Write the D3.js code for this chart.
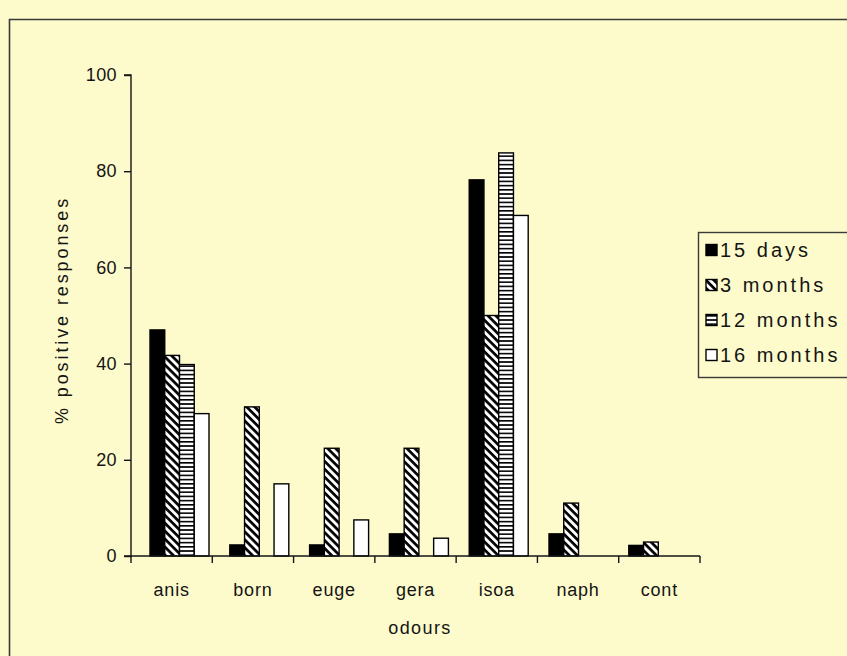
<!DOCTYPE html>
<html><head><meta charset="utf-8">
<script src="https://cdn.jsdelivr.net/npm/d3@7"></script>
<style>
html,body{margin:0;padding:0;background:#fdfbcb;}
svg{display:block;font-family:"Liberation Sans",Arial,sans-serif;}
</style></head>
<body>
<svg id="chart" width="847" height="656"></svg>
<script>
const categories = ["anis","born","euge","gera","isoa","naph","cont"];
const seriesNames = ["15 days","3 months","12 months","16 months"];
const days15   = [47.0, 2.3, 2.3, 4.6, 78.2, 4.6, 2.2];
const months3  = [41.7, 31.0, 22.4, 22.4, 50.0, 11.0, 2.9];
const months12 = [39.8, 0, 0, 0, 83.8, 0, 0];
const months16 = [29.6, 15.0, 7.5, 3.7, 70.8, 0, 0];
const seriesValues = [days15, months3, months12, months16];
const yTicks = [0,20,40,60,80,100];
const xTitle = "odours";
const yTitle = "% positive responses";

(function(){
const svg = d3.select("#chart");
const bg = "#fdfbcb";
const ink = "#141414";
svg.append("rect").attr("width",847).attr("height",656).attr("fill",bg);

const defs = svg.append("defs");
const pd = defs.append("pattern").attr("id","diag").attr("patternUnits","userSpaceOnUse")
  .attr("width",5.6).attr("height",5.6).attr("patternTransform","rotate(45)");
pd.append("rect").attr("width",5.6).attr("height",5.6).attr("fill","#fff");
pd.append("rect").attr("x",0).attr("y",0).attr("width",5.6).attr("height",2.7).attr("fill","#000");
const ph = defs.append("pattern").attr("id","horiz").attr("patternUnits","userSpaceOnUse")
  .attr("width",8).attr("height",4.2);
ph.append("rect").attr("width",8).attr("height",4.2).attr("fill","#fff");
ph.append("rect").attr("x",0).attr("y",0).attr("width",8).attr("height",1.6).attr("fill","#000");
const fills = ["#000","url(#diag)","url(#horiz)","#fff"];

// outer frame
svg.append("path").attr("d","M9.5,660 L9.5,19.5 L860,19.5").attr("fill","none").attr("stroke","#3a3a3a").attr("stroke-width",1.6);

const pLeft = 131, pRight = 700, pTop = 75, pBottom = 556;
const x0 = d3.scaleBand().domain(categories).range([pLeft,pRight]);
const xb = d3.scaleBand().domain(categories).range([139.6,698.2]);
const groupW = 59;
const x1 = d3.scaleBand().domain(d3.range(seriesNames.length)).range([0,groupW]);
const y = d3.scaleLinear().domain([0,100]).range([pBottom,pTop]);

const g = svg.append("g");
categories.forEach((c,i)=>{
  const gx = xb(c) + (xb.bandwidth()-groupW)/2;
  seriesValues.forEach((vals,s)=>{
    const v = vals[i];
    if(v<=0) return;
    g.append("rect").attr("x",gx+x1(s)).attr("y",y(v))
      .attr("width",x1.bandwidth()).attr("height",y(0)-y(v))
      .attr("fill",fills[s]).attr("stroke","#000").attr("stroke-width",1.4);
  });
});

// y axis
const ya = svg.append("g").attr("transform",`translate(${pLeft},0)`)
  .call(d3.axisLeft(y).tickValues(yTicks).tickSize(7).tickPadding(7).tickFormat(d3.format("d")));
ya.select(".domain").attr("stroke",ink).attr("stroke-width",1.4).attr("d",`M-7,${pTop}H0V${pBottom}H-7`);
ya.selectAll(".tick line").attr("stroke",ink).attr("stroke-width",1.4);
ya.selectAll(".tick text").attr("font-size",18).attr("letter-spacing",0.4).attr("fill",ink)
  .attr("font-family","Liberation Sans, Arial, sans-serif");

// x axis
const xa = svg.append("g").attr("transform",`translate(0,${pBottom})`);
xa.append("line").attr("x1",pLeft).attr("x2",pRight).attr("stroke",ink).attr("stroke-width",1.4);
const bounds = categories.map(c=>x0(c)).concat([pRight]);
xa.selectAll("line.t").data(bounds).join("line").attr("class","t")
  .attr("x1",d=>d).attr("x2",d=>d).attr("y1",0).attr("y2",7).attr("stroke",ink).attr("stroke-width",1.4);
xa.selectAll("text").data(categories).join("text")
  .attr("x",d=>x0(d)+x0.bandwidth()/2).attr("y",40)
  .attr("text-anchor","middle").attr("font-size",18).attr("letter-spacing",0.8).attr("fill",ink).text(d=>d);

svg.append("text").attr("x",420).attr("y",634).attr("text-anchor","middle")
  .attr("font-size",18).attr("letter-spacing",1.4).attr("fill",ink).text(xTitle);
svg.append("text").attr("transform",`translate(68,310) rotate(-90)`)
  .attr("text-anchor","middle").attr("font-size",18).attr("letter-spacing",2.9).attr("fill",ink).text(yTitle);

// legend
const lg = svg.append("g");
lg.append("rect").attr("x",698.5).attr("y",232.5).attr("width",180).attr("height",145)
  .attr("fill",bg).attr("stroke","#3a3a3a").attr("stroke-width",1.4);
seriesNames.forEach((n,s)=>{
  const cy = 250 + s*35;
  lg.append("rect").attr("x",706).attr("y",cy-5.5).attr("width",11).attr("height",11)
    .attr("fill",fills[s]).attr("stroke","#000").attr("stroke-width",1.4);
  lg.append("text").attr("x",720).attr("y",cy+7).attr("font-size",20).attr("letter-spacing",3)
    .attr("fill",ink).text(n);
});
})();
</script>
</body></html>
